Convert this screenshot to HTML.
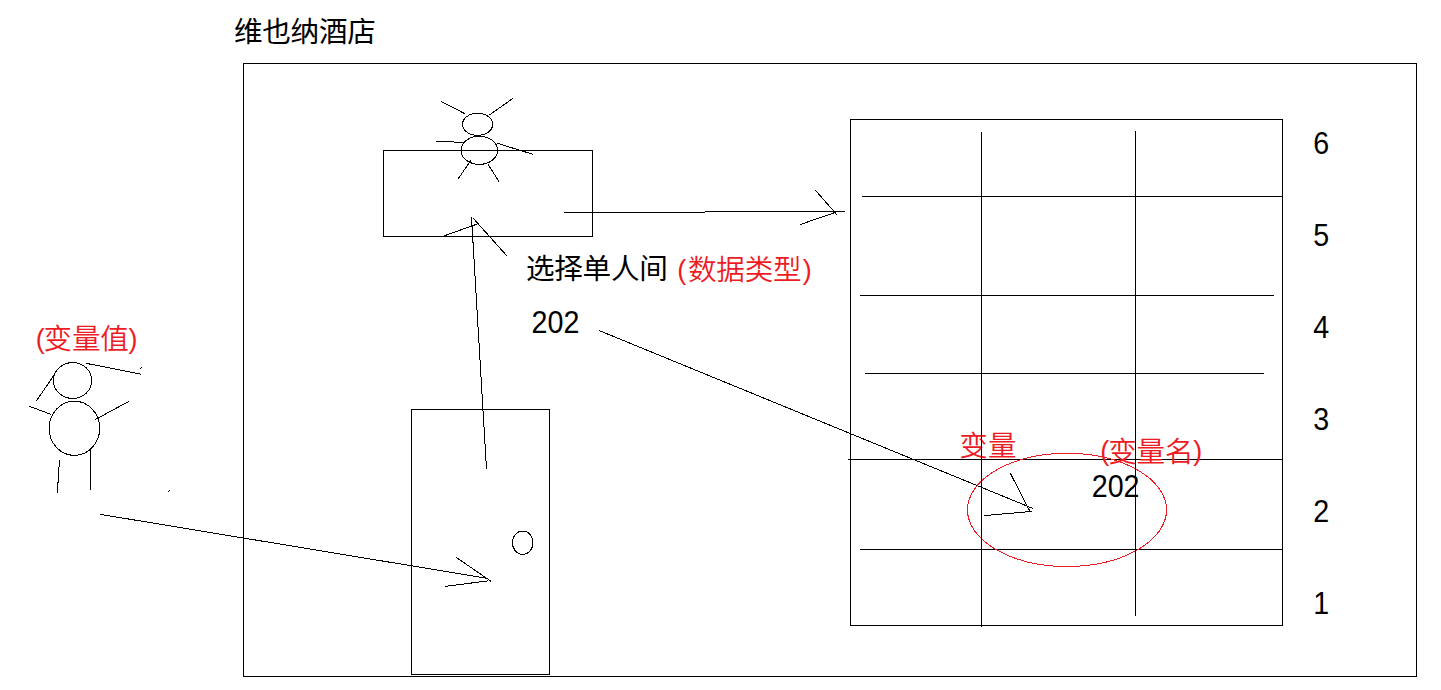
<!DOCTYPE html>
<html lang="zh-CN">
<head>
<meta charset="utf-8">
<title>维也纳酒店</title>
<style>
html,body{margin:0;padding:0;background:#fff;}
body{width:1441px;height:690px;overflow:hidden;position:relative;}
svg{position:absolute;left:0;top:0;display:block;}
.ln{stroke:#000;stroke-width:1;fill:none;shape-rendering:crispEdges;}
.rd{stroke:#ed1c24;stroke-width:1;fill:none;shape-rendering:crispEdges;}
text{font-family:"Liberation Sans","Noto Sans CJK SC",sans-serif;font-size:28.6px;letter-spacing:-0.3px;fill:#000;}
tspan.p{font-size:27px;}
text.n{font-size:31.5px;letter-spacing:0;}
text.r{fill:#ed1c24;font-weight:350;}
</style>
</head>
<body>
<svg width="1441" height="690" viewBox="0 0 1441 690">
<rect x="0" y="0" width="1441" height="690" fill="#fff"/>
<!-- outer frame -->
<g class="ln">
<rect x="243.5" y="63.5" width="1173" height="613"/>
<!-- reception desk -->
<rect x="383.5" y="150.5" width="209" height="86"/>
<!-- receptionist -->
<ellipse cx="477.6" cy="124.3" rx="15.1" ry="11.1"/>
<ellipse cx="479.3" cy="150.3" rx="18.3" ry="14.1"/>
<line x1="441" y1="101.4" x2="465.3" y2="113.9"/>
<line x1="489.4" y1="115" x2="513" y2="98.3"/>
<line x1="435.9" y1="141.3" x2="464.2" y2="142.4"/>
<line x1="496.7" y1="143.1" x2="532.9" y2="154.3"/>
<line x1="458.1" y1="178.9" x2="470.7" y2="160.6"/>
<line x1="488" y1="164.3" x2="499.1" y2="181.7"/>
<!-- arrow desk -> grid -->
<line x1="564" y1="212.5" x2="705" y2="212.5"/>
<line x1="705" y1="211.5" x2="845" y2="211.5"/>
<line x1="815.2" y1="190" x2="836.8" y2="214.6"/>
<line x1="800" y1="224.6" x2="835" y2="212.5"/>
<!-- arrow door -> desk -->
<line x1="471.5" y1="217" x2="486.5" y2="469"/>
<line x1="443.8" y1="236" x2="478.2" y2="223.7"/>
<line x1="473" y1="218" x2="506.7" y2="255.7"/>
<!-- door -->
<rect x="411.5" y="409.5" width="138" height="265"/>
<ellipse cx="522.7" cy="542.7" rx="10.3" ry="11.7"/>
<!-- arrow person -> door -->
<line x1="100" y1="514.3" x2="486.5" y2="578.2"/>
<line x1="456.3" y1="557.4" x2="491" y2="581.3"/>
<line x1="445.1" y1="586.4" x2="488" y2="580.9"/>
<!-- person outside -->
<ellipse cx="72.6" cy="380.5" rx="19.2" ry="17.9"/>
<ellipse cx="74.4" cy="428.3" rx="25.3" ry="27.1"/>
<line x1="85.9" y1="363.3" x2="140.9" y2="374.1"/>
<line x1="55" y1="373.7" x2="36.2" y2="401.2"/>
<line x1="28.9" y1="406.1" x2="51.1" y2="414.4"/>
<line x1="95.2" y1="419.6" x2="128.8" y2="401.4"/>
<line x1="140" y1="368.5" x2="142" y2="367.5"/>
<line x1="168.5" y1="491.5" x2="170" y2="490.5"/>
<line x1="59.5" y1="460" x2="57.3" y2="493.3"/>
<line x1="90.8" y1="450.3" x2="90.8" y2="489.6"/>
<!-- room grid -->
<rect x="850.5" y="119.5" width="432" height="506"/>
<line x1="862" y1="196.5" x2="1283" y2="196.5"/>
<line x1="860" y1="295.5" x2="1274" y2="295.5"/>
<line x1="865" y1="373.5" x2="1264" y2="373.5"/>
<line x1="848" y1="459.5" x2="1283" y2="459.5"/>
<line x1="860" y1="549.5" x2="1283" y2="549.5"/>
<!-- arrow 202 -> room -->
<line x1="599" y1="330.5" x2="1033" y2="508.5"/>
<line x1="1010.3" y1="473.2" x2="1029.7" y2="510.9"/>
<line x1="984.1" y1="515.6" x2="1031.8" y2="511.4"/>
</g>
<ellipse class="rd" cx="1067" cy="509.9" rx="99.5" ry="56.6"/>
<text x="234" y="42">维也纳酒店</text>
<text x="526" y="278.7">选择单人间</text>
<text class="r" x="677.3" y="279.7"><tspan class="p" dy="-1.2">(</tspan><tspan dx="1.9" dy="1.2" style="letter-spacing:-0.2px">数据类型</tspan><tspan class="p" dx="1.2" dy="-1.2">)</tspan></text>
<text class="n" transform="translate(531.5 333.2) scale(.91 1)">202</text>
<text class="r" x="35.8" y="349"><tspan class="p" dy="-1.2">(</tspan><tspan dx="-0.9" dy="1.2">变量值</tspan><tspan class="p" dx="0" dy="-1.2">)</tspan></text>
<text class="r" x="959.2" y="455.7" style="letter-spacing:0.2px">变量</text>
<text class="r" x="1100.3" y="461.9"><tspan class="p" dy="-1.7">(</tspan><tspan dx="-0.7" dy="1.7">变量名</tspan><tspan class="p" dx="0" dy="-1.7">)</tspan></text>
<text class="n" transform="translate(1091.7 497.3) scale(.91 1)">202</text>
<text class="n" transform="translate(1313.2 154) scale(.91 1)">6</text>
<text class="n" transform="translate(1313.2 246) scale(.91 1)">5</text>
<text class="n" transform="translate(1313.2 338) scale(.91 1)">4</text>
<text class="n" transform="translate(1313.2 430) scale(.91 1)">3</text>
<text class="n" transform="translate(1313.2 522) scale(.91 1)">2</text>
<text class="n" transform="translate(1313.2 614) scale(.91 1)">1</text>
<g class="ln">
<line x1="981.5" y1="132" x2="981.5" y2="627"/>
<line x1="1135.5" y1="131" x2="1135.5" y2="616"/>
</g>
</svg>
</body>
</html>
